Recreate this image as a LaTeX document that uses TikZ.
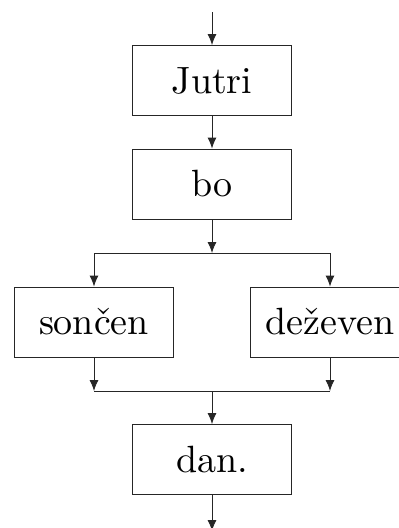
\documentclass[tikz,border=0pt]{standalone}
\usepackage{fontspec}
\setmainfont{lmroman10-regular}[Extension=.otf]
\usetikzlibrary{arrows.meta}
\begin{document}
\begin{tikzpicture}[x=1pt,y=-1pt,
  box/.style={draw=black!85,line width=0.9pt,minimum width=159pt,minimum height=70pt,inner sep=0pt,font=\fontsize{38}{46}\selectfont},
  conn/.style={draw=black!85,line width=0.9pt},
  arr/.style={conn,-{Latex[length=11pt,width=9pt]}}]
\clip (0,0) rectangle (399,528);
\fill[white] (0,0) rectangle (399,528);
\node[box] (jutri) at (212,80.5) {Jutri};
\node[box] (bo) at (212,184) {bo};
\node[box] (soncen) at (94,322) {son\v{c}en};
\node[box] (dezeven) at (330,322) {de\v{z}even};
\node[box] (dan) at (212,459.5) {dan.};
\coordinate (start) at (212,12);
\coordinate (end) at (212,531);
\coordinate (j1) at (212,253);
\coordinate (j1l) at (94,253);
\coordinate (j1r) at (330,253);
\coordinate (j2) at (212,391);
\coordinate (j2l) at (94,391);
\coordinate (j2r) at (330,391);
\draw[arr] (start) -- (jutri.north);
\draw[arr] (jutri.south) -- (bo.north);
\draw[arr] (bo.south) -- (j1);
\draw[conn] (j1l) -- (j1r);
\draw[arr] (j1l) -- (soncen.north);
\draw[arr] (j1r) -- (dezeven.north);
\draw[arr] (soncen.south) -- (j2l);
\draw[arr] (dezeven.south) -- (j2r);
\draw[conn] (j2l) -- (j2r);
\draw[arr] (j2) -- (dan.north);
\draw[arr] (dan.south) -- (end);
\end{tikzpicture}
\end{document}
